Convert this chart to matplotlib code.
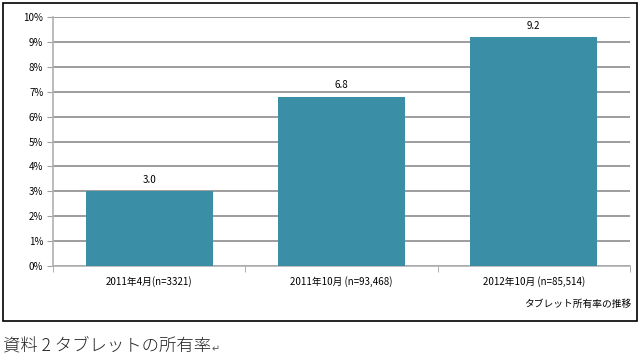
import matplotlib.pyplot as plt
from matplotlib.patches import Rectangle

plt.rcParams['font.family'] = ['Noto Sans CJK JP', 'DejaVu Sans']

categories = ["2011年4月(n=3321)", "2011年10月 (n=93,468)", "2012年10月 (n=85,514)"]
values = [3.0, 6.8, 9.2]
y_ticks = [0, 1, 2, 3, 4, 5, 6, 7, 8, 9, 10]

fig = plt.figure(figsize=(6.43, 3.56), dpi=100)

# outer chart frame
fig.patches.append(Rectangle((3 / 643, 1 - 321 / 356), 634 / 643, 318 / 356,
                             transform=fig.transFigure, fill=False,
                             edgecolor="black", linewidth=1.2))

ax = fig.add_axes([53 / 643, 90 / 356, 577 / 643, 249 / 356])

x = range(len(categories))
ax.bar(x, values, width=0.66, color="#3a8fa6", zorder=3)

for i, v in enumerate(values):
    ax.text(i, v + 0.25, f"{v:.1f}", ha="center", va="bottom", fontsize=7)

ax.set_xlim(-0.5, 2.5)
ax.set_ylim(0, 10)
ax.set_yticks(y_ticks)
ax.set_yticklabels([f"{t}%" for t in y_ticks], fontsize=7)
ax.set_xticks(list(x))
ax.set_xticklabels(categories, fontsize=7)
ax.set_xticks([-0.5, 0.5, 1.5, 2.5], minor=True)
ax.tick_params(axis="x", which="major", length=0, pad=7)
ax.tick_params(axis="x", which="minor", length=4, color="#a0a0a0")
ax.tick_params(axis="y", length=4, color="#a0a0a0", pad=3)

ax.grid(axis="y", color="#8c8c8c", linewidth=1.2, zorder=0)
for side in ["top", "right"]:
    ax.spines[side].set_visible(False)
ax.spines["left"].set_color("#b0b0b0")
ax.spines["bottom"].set_color("#b0b0b0")
ax.spines["left"].set_linewidth(1.2)
ax.spines["bottom"].set_linewidth(1.2)

fig.text(631 / 643, 1 - 304 / 356, "タブレット所有率の推移", ha="right", va="center", fontsize=7)
fig.text(3 / 643, 1 - 346 / 356, "資料 2 タブレットの所有率", ha="left", va="center",
         fontsize=12.5, color="#222222", fontweight="light")
fig.text(212 / 643, 1 - 349 / 356, "↵", ha="left", va="center", fontsize=7, color="#555555")

fig.savefig("out.png", dpi=100)
